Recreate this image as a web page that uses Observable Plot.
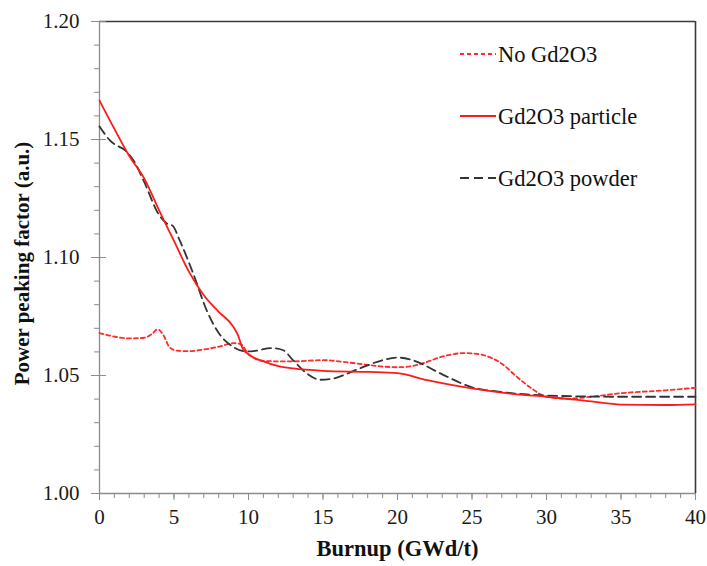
<!DOCTYPE html>
<html>
<head>
<meta charset="utf-8">
<script src="https://cdn.jsdelivr.net/npm/d3@7"></script>
<script src="https://cdn.jsdelivr.net/npm/@observablehq/plot@0.6"></script>
<style>
  html, body { margin: 0; padding: 0; background: #fff; }
  #chart { position: relative; width: 707px; height: 566px; }
  #legend { position: absolute; left: 0; top: 0; pointer-events: none; }
</style>
</head>
<body>
<div id="chart"></div>
<script>
// ---- data ----
const seriesNames = ["No Gd2O3", "Gd2O3 particle", "Gd2O3 powder"];

const burnupNoGd = [0, 1, 2, 3, 3.5, 3.9, 4.3, 4.7, 5.2, 6, 7, 8, 9, 9.5, 10, 11, 12, 13, 15, 17, 19, 20, 21, 22, 23, 24.5, 25.5, 27, 28, 29, 30, 31.5, 33, 35, 38, 40];
const ppfNoGd    = [1.068, 1.0665, 1.0657, 1.066, 1.0675, 1.0695, 1.067, 1.062, 1.0605, 1.0603, 1.061, 1.0622, 1.0637, 1.0632, 1.059, 1.0562, 1.056, 1.056, 1.0565, 1.0553, 1.0538, 1.0535, 1.054, 1.0558, 1.058, 1.0595, 1.059, 1.055, 1.0495, 1.0445, 1.041, 1.0402, 1.041, 1.0425, 1.0437, 1.0448];

const burnupParticle = [0, 1, 2, 3, 4, 5, 6, 7, 8, 9, 9.3, 9.6, 10, 11, 12, 13, 15, 18, 20, 22, 25, 28, 30, 33, 35, 38, 40];
const ppfParticle    = [1.1665, 1.1545, 1.143, 1.1335, 1.120, 1.107, 1.094, 1.084, 1.077, 1.0705, 1.067, 1.0615, 1.059, 1.056, 1.054, 1.053, 1.052, 1.0515, 1.051, 1.048, 1.0445, 1.042, 1.041, 1.039, 1.0377, 1.0375, 1.0378];

const burnupPowder = [0, 0.7, 1.85, 2.3, 3, 4, 4.5, 4.9, 5.4, 6.3, 7.2, 8, 9, 9.9, 10.5, 11.5, 12.3, 13, 14, 14.8, 15.5, 17.5, 19, 20, 21, 23, 25, 27, 30, 35, 40];
const ppfPowder    = [1.1555, 1.1496, 1.1446, 1.141, 1.132, 1.118, 1.1145, 1.1135, 1.107, 1.093, 1.0775, 1.068, 1.062, 1.0602, 1.0605, 1.0616, 1.0608, 1.0564, 1.0505, 1.0482, 1.0485, 1.0531, 1.0565, 1.0576, 1.0565, 1.0505, 1.045, 1.043, 1.0415, 1.041, 1.041];

const xMajorTicks = [0, 5, 10, 15, 20, 25, 30, 35, 40];
const yMajorTicks = [1.00, 1.05, 1.10, 1.15, 1.20];
const xMinorTicks = d3.range(0, 41, 1);
const yMinorTicks = d3.range(0, 21).map(i => +(1 + i * 0.01).toFixed(2));

const toRows = (xs, ys) => xs.map((x, i) => ({x, y: ys[i]}));
const noGd = toRows(burnupNoGd, ppfNoGd);
const particle = toRows(burnupParticle, ppfParticle);
const powder = toRows(burnupPowder, ppfPowder);

const FONT = "'Liberation Serif', 'Times New Roman', serif";
const axisGray = "#8c8c8c";
const frameDark = "#3a3a3a";

const plot = Plot.plot({
  width: 707,
  height: 566,
  marginLeft: 99,
  marginRight: 12,
  marginTop: 21,
  marginBottom: 73,
  style: {fontFamily: FONT, fontSize: "21px", color: "#1a1a1a", background: "#fff"},
  x: {domain: [0, 40]},
  y: {domain: [1.0, 1.2]},
  marks: [
    // frame: top & right dark, left & bottom gray
    Plot.ruleY([1.2], {stroke: frameDark, strokeWidth: 1.6}),
    Plot.ruleX([40], {stroke: frameDark, strokeWidth: 1.6}),
    // minor ticks
    Plot.axisY({ticks: yMinorTicks, tickSize: 5, text: null, stroke: axisGray, label: null}),
    Plot.axisX({ticks: xMinorTicks, tickSize: 5, text: null, stroke: axisGray, label: null}),
    // major ticks inward part (y)
    Plot.axisY({ticks: yMajorTicks, tickSize: -7, text: null, stroke: axisGray, label: null}),
    // major ticks + labels
    Plot.axisY({ticks: yMajorTicks, tickSize: 8, tickPadding: 12, tickFormat: d3.format(".2f"), stroke: axisGray,
      fill: "#1a1a1a", fontSize: 21, label: null}),
    Plot.axisX({ticks: xMajorTicks, tickSize: 7, tickPadding: 9, tickFormat: d => String(d), stroke: axisGray,
      fill: "#1a1a1a", fontSize: 21, label: null}),
    Plot.ruleX([0], {stroke: axisGray, strokeWidth: 1.3}),
    Plot.ruleY([1.0], {stroke: axisGray, strokeWidth: 1.3}),
    // series
    Plot.line(noGd, {x: "x", y: "y", stroke: "#ff2a2a", strokeWidth: 1.8, strokeDasharray: "4,3", curve: "monotone-x"}),
    Plot.line(powder, {x: "x", y: "y", stroke: "#333333", strokeWidth: 1.8, strokeDasharray: "9,5", curve: "monotone-x"}),
    Plot.line(particle, {x: "x", y: "y", stroke: "#ff1a1a", strokeWidth: 1.8, curve: "monotone-x"}),
    // axis titles
    Plot.text(["Burnup (GWd/t)"], {frameAnchor: "bottom", dy: 62, text: d => d, fontWeight: "bold", fontSize: 22.5, fill: "#111"}),
    Plot.text(["Power peaking factor (a.u.)"], {frameAnchor: "left", dx: -77, dy: 6, rotate: -90, textAnchor: "middle",
      text: d => d, fontWeight: "bold", fontSize: 21, fill: "#111"})
  ]
});

document.getElementById("chart").appendChild(plot);

// ---- legend (inside the plot, upper right) ----
const legendItems = [
  {name: seriesNames[0], stroke: "#ff2a2a", dash: "4,3"},
  {name: seriesNames[1], stroke: "#ff1a1a", dash: null},
  {name: seriesNames[2], stroke: "#333333", dash: "9,5"}
];
const svg = d3.select("#chart").append("svg")
  .attr("id", "legend").attr("width", 707).attr("height", 566);
const g = svg.selectAll("g").data(legendItems).join("g")
  .attr("transform", (d, i) => `translate(460, ${54 + i * 62})`);
g.append("line").attr("x1", 0).attr("x2", 36).attr("y1", 0).attr("y2", 0)
  .attr("stroke", d => d.stroke).attr("stroke-width", 1.8)
  .attr("stroke-dasharray", d => d.dash);
g.append("text").attr("x", 38).attr("y", 0).attr("dy", "0.35em")
  .attr("font-family", FONT).attr("font-size", 22.5).attr("fill", "#111")
  .text(d => d.name);
</script>
</body>
</html>
